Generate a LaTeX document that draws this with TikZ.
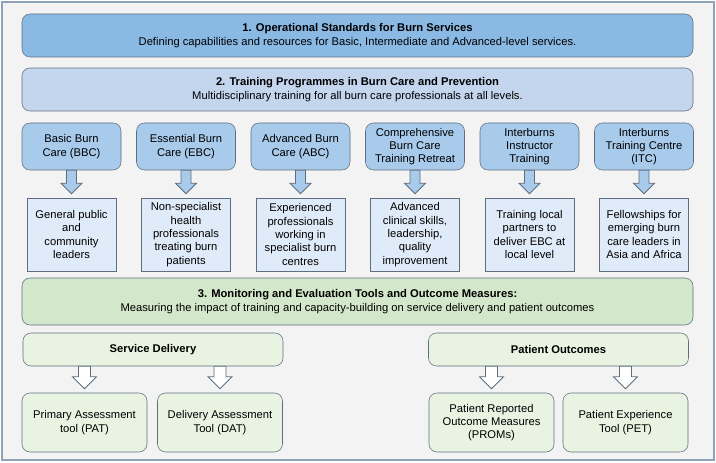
\documentclass[tikz,border=0pt]{standalone}
\usepackage{fontspec}
\setmainfont{Liberation Sans}
\usepackage{tikz}
\usetikzlibrary{calc}

\definecolor{bgpanel}{HTML}{F3F3F3}
\definecolor{panelline}{HTML}{8FA2B7}
\definecolor{boxline}{HTML}{5E6E7E}
\definecolor{standardblue}{HTML}{8AB9E4}
\definecolor{trainingblue}{HTML}{C4D5EE}
\definecolor{courseblue}{HTML}{A8CAEB}
\definecolor{targetblue}{HTML}{DFEBF8}
\definecolor{monitorgreen}{HTML}{D3E7CA}
\definecolor{toolgreen}{HTML}{E9F3E2}

% block arrow from the bottom of #2 down to the top of #3
\newcommand{\blockarrow}[5]{%
  \draw[#1] ($(#3.north |- #2.south)+(-#4,0)$) -- ($(#3.north)+(-#4,-4-#5)$) -- ($(#3.north)+(-#5,-4-#5)$) -- ($(#3.north)+(0,-4)$) -- ($(#3.north)+(#5,-4-#5)$) -- ($(#3.north)+(#4,-4-#5)$) -- ($(#3.north |- #2.south)+(#4,0)$) -- cycle;}

\begin{document}
\begin{tikzpicture}[x=0.75pt,y=0.75pt,yscale=-1,xscale=1,
  every node/.style={font=\fontsize{8.4}{10}\selectfont, align=center, inner sep=1pt},
  headbox/.style={draw=boxline, rounded corners=6pt, minimum width=503.25pt, minimum height=32.25pt},
  coursebox/.style={draw=boxline, fill=courseblue, rounded corners=6pt, minimum width=74.25pt, minimum height=35.25pt},
  targetbox/.style={draw=boxline, fill=targetblue, minimum width=66.75pt, minimum height=54.75pt},
  groupbox/.style={draw=boxline, fill=toolgreen, rounded corners=6pt, minimum width=195pt, minimum height=24.75pt},
  toolbox/.style={draw=boxline, fill=toolgreen, rounded corners=6pt, minimum width=93.75pt, minimum height=44.25pt},
  bluearrow/.style={draw=boxline, fill=courseblue, line width=0.6pt},
  whitearrow/.style={draw=boxline, fill=white, line width=0.6pt}]
\useasboundingbox (0,0) rectangle (716,463);

%Shape: Rectangle (panel)
\draw [fill=bgpanel, draw=panelline, line width=0.8pt] (2,2) rectangle (714,460);

% Text Node
\node [headbox, fill=standardblue] (standards) at (357.5,35.5) {\textbf{1. Operational Standards for Burn Services}\\Defining capabilities and resources for Basic, Intermediate and Advanced-level services.};
% Text Node
\node [headbox, fill=trainingblue] (training) at (357.5,89.5) {\textbf{2. Training Programmes in Burn Care and Prevention}\\Multidisciplinary training for all burn care professionals at all levels.};

% Text Node
\node [coursebox] (bbc) at (71.5,146.5) {Basic Burn\\Care (BBC)};
\node [coursebox] (ebc) at (186,146.5) {Essential Burn\\Care (EBC)};
\node [coursebox] (abc) at (300.5,146.5) {Advanced Burn\\Care (ABC)};
\node [coursebox] (retreat) at (415,146.5) {Comprehensive\\Burn Care\\Training Retreat};
\node [coursebox] (instructor) at (529.5,146.5) {Interburns\\Instructor\\Training};
\node [coursebox] (itc) at (644,146.5) {Interburns\\Training Centre\\(ITC)};

% Text Node
\node [targetbox] (bbcfor) at (71.5,234.5) {General public\\and\\community\\leaders};
\node [targetbox] (ebcfor) at (186,234.5) {Non-specialist\\health\\professionals\\treating burn\\patients};
\node [targetbox] (abcfor) at (300.5,234.5) {Experienced\\professionals\\working in\\specialist burn\\centres};
\node [targetbox] (retreatfor) at (415,234.5) {Advanced\\clinical skills,\\leadership,\\quality\\improvement};
\node [targetbox] (instructorfor) at (529.5,234.5) {Training local\\partners to\\deliver EBC at\\local level};
\node [targetbox] (itcfor) at (644,234.5) {Fellowships for\\emerging burn\\care leaders in\\Asia and Africa};

\blockarrow{bluearrow}{bbc}{bbcfor}{5}{10.5}
\blockarrow{bluearrow}{ebc}{ebcfor}{5}{10.5}
\blockarrow{bluearrow}{abc}{abcfor}{5}{10.5}
\blockarrow{bluearrow}{retreat}{retreatfor}{5}{10.5}
\blockarrow{bluearrow}{instructor}{instructorfor}{5}{10.5}
\blockarrow{bluearrow}{itc}{itcfor}{5}{10.5}

% Text Node
\node [headbox, fill=monitorgreen, minimum height=35.25pt] (monitoring) at (357.5,301.5) {\textbf{3. Monitoring and Evaluation Tools and Outcome Measures:}\\Measuring the impact of training and capacity-building on service delivery and patient outcomes};

% Text Node
\node [groupbox] (service) at (153,349.5) {\textbf{Service Delivery}};
\node [groupbox] (outcomes) at (558.5,349.5) {\textbf{Patient Outcomes}};

% Text Node
\node [toolbox] (pat) at (84.5,422.5) {Primary Assessment\\tool (PAT)};
\node [toolbox] (dat) at (220,422.5) {Delivery Assessment\\Tool (DAT)};
\node [toolbox] (proms) at (491.5,422.5) {Patient Reported\\Outcome Measures\\(PROMs)};
\node [toolbox] (pet) at (625.5,422.5) {Patient Experience\\Tool (PET)};

\blockarrow{whitearrow}{service}{pat}{6}{12}
\blockarrow{whitearrow}{service}{dat}{6}{12}
\blockarrow{whitearrow}{outcomes}{proms}{6}{12}
\blockarrow{whitearrow}{outcomes}{pet}{6}{12}
\end{tikzpicture}
\end{document}
